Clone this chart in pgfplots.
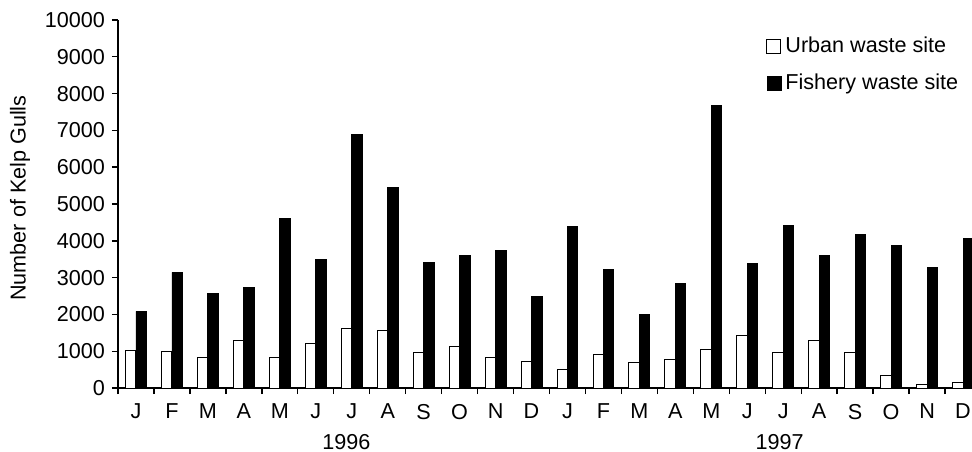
\documentclass[border=0pt]{standalone}
\usepackage{pgfplots}
\pgfplotsset{compat=1.18}
\usepackage{fontspec}
\setmainfont{Liberation Sans}
\begin{document}
\begin{tikzpicture}[font=\fontsize{10.8bp}{13bp}\selectfont]
\begin{axis}[
 at={(0,0)}, anchor=south west, scale only axis,
 width=427bp, height=184bp,
 xmin=-0.5, xmax=23.25, ymin=0, ymax=10000,
 axis lines*=left,
 axis line style={line width=0.7bp, black},
 tick style={line width=0.7bp, black},
 tick align=outside, major tick length=3bp,
 ytick={0,1000,...,10000},
 scaled y ticks=false,
 /pgf/number format/assume math mode=true,
 yticklabel style={/pgf/number format/1000 sep={}},
 xtick={-0.5,0.5,...,22.5},
 xticklabels={J,F,M,A,M,J,J,A,S,O,N,D,J,F,M,A,M,J,J,A,S,O,N,D},
 xticklabel style={xshift=9bp, yshift=-1.5bp},
 ylabel={Number of Kelp Gulls},
 ylabel style={at={(axis description cs:-0.1148,0.516)}, anchor=center},
 ybar, bar width=5.2bp,
 clip mode=individual,
 legend style={draw=none, fill=none, at={(axis description cs:0.7588,0.965)}, anchor=north west, inner sep=0pt, row sep=5bp, cells={anchor=west}},
 legend image code/.code={\draw[#1] (0bp,-3.5bp) rectangle (7bp,3.5bp);},
]
\addplot[bar shift=-2.6bp, fill=white, draw=black, line width=0.5bp] coordinates {
(0,1010) (1,1000) (2,840) (3,1290) (4,840) (5,1200) (6,1630) (7,1575) (8,977) (9,1120) (10,840) (11,723)
(12,515) (13,923) (14,697) (15,768) (16,1050) (17,1430) (18,977) (19,1290) (20,977) (21,343) (22,90) (23,145)};
\addplot[bar shift=2.6bp, fill=black, draw=black] coordinates {
(0,2080) (1,3140) (2,2570) (3,2740) (4,4605) (5,3500) (6,6880) (7,5460) (8,3420) (9,3600) (10,3730) (11,2500)
(12,4380) (13,3220) (14,1990) (15,2850) (16,7680) (17,3375) (18,4405) (19,3600) (20,4180) (21,3870) (22,3275) (23,4055)};
\legend{Urban waste site, Fishery waste site}
\node[anchor=base, inner sep=0pt] at (axis cs:5.85,0) [yshift=-30.5bp] {1996};
\node[anchor=base, inner sep=0pt] at (axis cs:17.9,0) [yshift=-30.5bp] {1997};
\end{axis}
\pgfresetboundingbox
\path[use as bounding box] (-59bp,-32bp) rectangle (427bp,194bp);
\end{tikzpicture}
\end{document}
